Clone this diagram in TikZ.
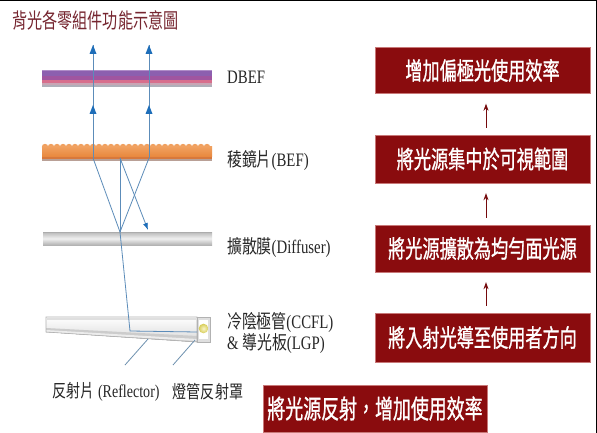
\documentclass[tikz,border=0pt]{standalone}
\usepackage{fontspec}
\usepackage{graphicx}
\setmainfont{Liberation Serif}
\newfontfamily\cjk{Noto Sans CJK TC}
\newfontfamily\cjkbox[FakeBold=1.2]{Noto Sans CJK TC}
\usetikzlibrary{arrows.meta}

\definecolor{boxred}{RGB}{138,12,14}
\definecolor{boxedge}{RGB}{200,120,120}
\definecolor{titlered}{RGB}{118,38,48}
\definecolor{raycol}{RGB}{92,140,185}
\definecolor{raytip}{RGB}{30,110,185}
\definecolor{befbody}{RGB}{232,135,60}
\definecolor{beflight}{RGB}{240,160,95}
\definecolor{befdark}{RGB}{215,120,60}
\definecolor{befbase}{RGB}{185,160,150}
\definecolor{leadcol}{RGB}{110,145,175}
\definecolor{dbefa}{RGB}{140,95,175}
\definecolor{dbefb}{RGB}{160,85,160}
\definecolor{dbefc}{RGB}{215,110,140}
\definecolor{dbefd}{RGB}{200,165,180}
\definecolor{dbefe}{RGB}{175,175,185}
\definecolor{dbeftop}{RGB}{175,140,200}
\definecolor{lampin}{RGB}{250,245,200}
\definecolor{lampout}{RGB}{215,205,90}

% horizontally condensed text
\newcommand{\sq}[1]{\scalebox{0.78}[1]{#1}}
\newcommand{\sqb}[1]{\scalebox{0.70}[1]{#1}}

\tikzset{
  redbox/.style={fill=boxred, draw=boxedge, line width=0.4pt, text=white,
    inner sep=0pt, minimum width=215pt, minimum height=46pt,
    font=\cjkbox\fontsize{24.5}{24.5}\selectfont},
  flowarrow/.style={draw=boxred!85!black, line width=0.8pt,
    -{Stealth[length=7pt,width=5pt]}, shorten >=10pt, shorten <=7pt},
  lbl/.style={anchor=west, inner sep=0pt, text=black!85,
    font=\fontsize{19}{21}\selectfont},
  sublbl/.style={inner sep=0pt, text=black!85,
    font=\fontsize{18}{20}\selectfont},
  ray/.style={draw=raycol, line width=0.8pt},
  raytipstyle/.style={-{Latex[length=7pt,width=5pt,color=raytip]}},
  uptip/.style={fill=raytip},
  leader/.style={draw=leadcol, line width=0.8pt},
}

\begin{document}
\begin{tikzpicture}[x=1pt, y=-1pt]
\useasboundingbox (0,0) rectangle (597,433);
\fill[white] (0,0) rectangle (597,433);

% frame edges
\draw[black, line width=1.5pt] (0,0.75) -- (596.25,0.75) -- (596.25,433);

% title
\node[anchor=west, inner sep=0pt, text=titlered,
  font=\cjk\fontsize{21}{21}\selectfont] (title) at (12,21)
  {\scalebox{0.72}[1]{背光各零組件功能示意圖}};

% ---- DBEF film ----
\fill[dbefa] (42,70) rectangle (212,76);
\fill[dbefb] (42,76) rectangle (212,80);
\fill[dbefc] (42,80) rectangle (212,83);
\fill[dbefd] (42,83) rectangle (212,85);
\fill[dbefe] (42,85) rectangle (212,87.5);
\fill[dbeftop] (42,70) rectangle (212,71.5);

% ---- BEF (prism) film ----
\foreach \i in {0,...,27}
  \fill[beflight] (45+\i*6,147) circle (3.2pt);
\fill[top color=beflight, bottom color=befbody] (42,147) rectangle (212,157);
\fill[befdark] (42,157) rectangle (212,159);
\fill[befbase] (42,159) rectangle (212,161.5);

% ---- Diffuser film ----
\fill[top color=gray!55, bottom color=gray!60, middle color=gray!12] (43,232) rectangle (212,245);
\draw[gray!65, line width=0.5pt] (43,232) -- (212,232);

% ---- Light guide plate with CCFL ----
\fill[top color=white, bottom color=gray!30] (46,317) -- (197,317) -- (197,342) -- (46,332) -- cycle;
\fill[gray!40] (46,328) -- (197,336) -- (197,342) -- (46,332) -- cycle;
\fill[gray!15] (46,330) -- (197,339) -- (197,341) -- (46,332) -- cycle;
\draw[gray!60, line width=0.6pt] (46,317) -- (197,317) -- (197,342) -- (46,332) -- cycle;
\draw[gray!25, line width=1.2pt] (47,319) -- (196,319);
% lamp housing and lamp
\fill[gray!25] (197,317) rectangle (210,342);
\draw[gray!60, line width=0.6pt] (197,317) rectangle (210,342);
\fill[white] (199,320) rectangle (208,339);
\shade[inner color=lampin, outer color=lampout] (203.5,328.5) circle (4.8pt);

% ---- light rays ----
\coordinate (ta) at (93,45);
\coordinate (ma) at (93,105);
\coordinate (ba) at (93,158);
\coordinate (tb) at (149,45);
\coordinate (mb) at (149,105);
\coordinate (bb) at (149,158);
\coordinate (dif) at (120,232);
\coordinate (pr) at (120,158);
\coordinate (rt) at (148,230);
\coordinate (lb) at (130,331);
\coordinate (lamp) at (197,332);

\draw[ray] (lamp) -- (lb) -- (dif) -- (ba);
\draw[ray] (dif) -- (bb);
\draw[ray] (dif) -- (pr);
\draw[ray, raytipstyle] (pr) -- (rt);
\draw[ray] (ba) -- (ta);
\draw[ray] (bb) -- (tb);
% upward arrowheads on the two outgoing rays
\foreach \p in {ta,ma,tb,mb}
  \fill[uptip] (\p) -- ++(-3.5,9) -- ++(7,0) -- cycle;

% ---- leader lines to bottom labels ----
\coordinate (r1) at (148,339);
\coordinate (r1e) at (125,365);
\coordinate (r2) at (195,340);
\coordinate (r2e) at (173,365);
\draw[leader] (r1) -- (r1e);
\draw[leader] (r2) -- (r2e);

% ---- component labels ----
\node[lbl] (ldbef) at (227,77) {\sq{DBEF}};
\node[lbl] (lbef) at (227,160) {\sq{{\cjk 稜鏡片}(BEF)}};
\node[lbl] (ldif) at (227,247) {\sq{{\cjk 擴散膜}(Diffuser)}};
\node[lbl, align=left] (llgp) at (227,333)
  {\sq{{\cjk 冷陰極管}(CCFL)}\\\sq{\& {\cjk 導光板}(LGP)}};
\node[sublbl] (lrefl) at (106,392) {\sq{{\cjk 反射片} (Reflector)}};
\node[sublbl] (lhood) at (208,392) {\sq{{\cjk 燈管反射罩}}};

% ---- function boxes ----
\node[redbox] (b1) at (482.5,70.5) {\sqb{增加偏極光使用效率}};
\node[redbox, minimum height=48pt] (b2) at (482.5,159) {\sqb{將光源集中於可視範圍}};
\node[redbox, minimum height=47pt] (b3) at (482.5,248.5) {\sqb{將光源擴散為均勻面光源}};
\node[redbox, minimum height=49pt] (b4) at (482.5,337.5) {\sqb{將入射光導至使用者方向}};
\node[redbox, minimum width=224pt, minimum height=47pt,
  font=\cjkbox\fontsize{26}{26}\selectfont] (b5) at (375,408.5) {\scalebox{0.69}[1]{將光源反射，增加使用效率}};

\draw[flowarrow] (b2.north -| 486,0) -- (b1.south -| 486,0);
\draw[flowarrow] (b3.north -| 486,0) -- (b2.south -| 486,0);
\draw[flowarrow] (b4.north -| 486,0) -- (b3.south -| 486,0);
\end{tikzpicture}
\end{document}
